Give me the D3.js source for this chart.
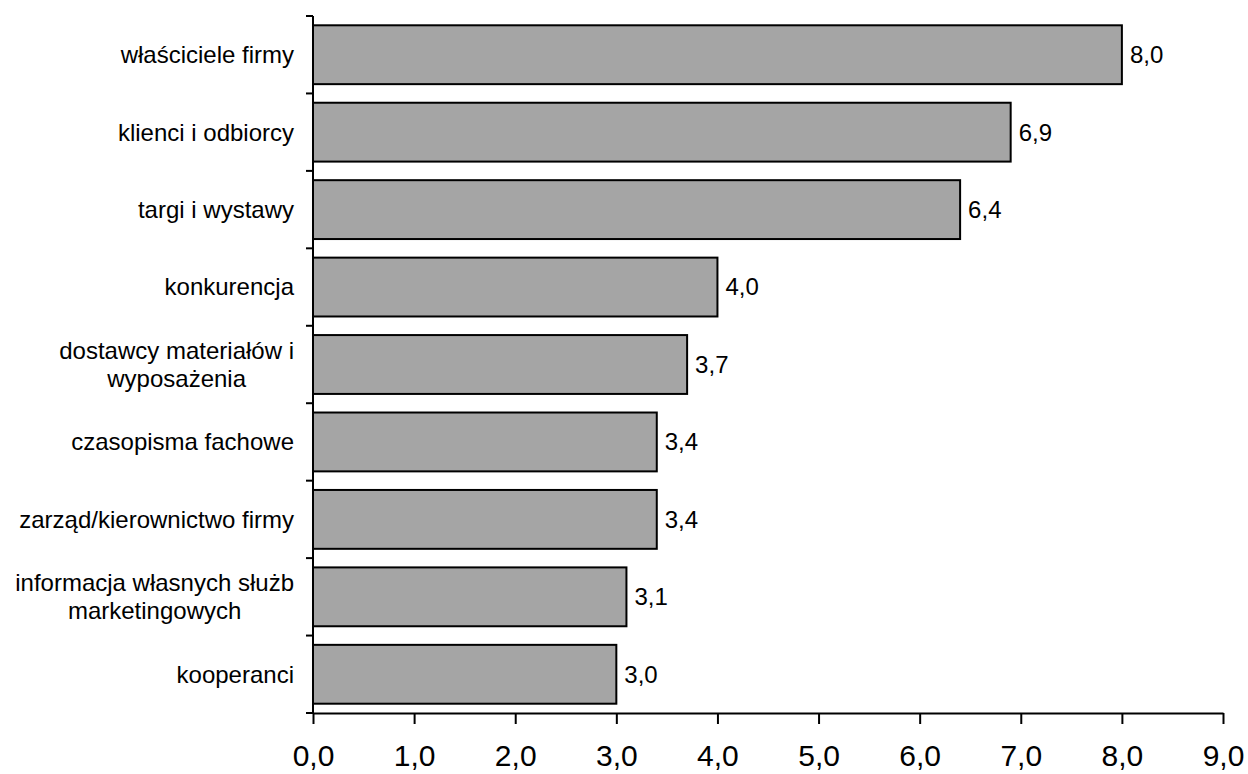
<!DOCTYPE html>
<html><head><meta charset="utf-8">
<script src="https://cdn.jsdelivr.net/npm/d3@7"></script>
<style>body{margin:0;background:#fff;} svg{display:block;font-family:"Liberation Sans",Arial,sans-serif;}</style>
</head><body>
<svg id="chart" width="1248" height="774"></svg>
<script>
const categories = [
  ["właściciele firmy"],
  ["klienci i odbiorcy"],
  ["targi i wystawy"],
  ["konkurencja"],
  ["dostawcy materiałów i", "wyposażenia"],
  ["czasopisma fachowe"],
  ["zarząd/kierownictwo firmy"],
  ["informacja własnych służb", "marketingowych"],
  ["kooperanci"]
];
const values = [8.0, 6.9, 6.4, 4.0, 3.7, 3.4, 3.4, 3.1, 3.0];
const xTicks = [0,1,2,3,4,5,6,7,8,9];

(function(){
const svg = d3.select("#chart");
const mLeft = 313, mRight = 1223, mTop = 16, mBottom = 713;
const fmt = v => v.toFixed(1).replace(".", ",");

const x = d3.scaleLinear().domain([0, 9]).range([mLeft, mRight]);
const y = d3.scaleBand().domain(d3.range(categories.length)).range([mTop, mBottom])
  .paddingInner(0.24).paddingOuter(0.12);
const step = y.step();

// bars
svg.append("g").selectAll("rect").data(values).join("rect")
  .attr("x", x(0)).attr("y", (d,i) => y(i))
  .attr("width", d => x(d) - x(0)).attr("height", y.bandwidth())
  .attr("fill", "#a5a5a5").attr("stroke", "#000").attr("stroke-width", 2);

// value labels
svg.append("g").selectAll("text").data(values).join("text")
  .attr("x", d => x(d) + 8).attr("y", (d,i) => y(i) + y.bandwidth()/2)
  .attr("dy", "0.35em").attr("font-size", 24).attr("fill", "#000")
  .text(d => fmt(d));

// x axis
const xAxis = d3.axisBottom(x).tickValues(xTicks).tickSize(11).tickPadding(21).tickFormat(fmt).tickSizeOuter(0);
const gx = svg.append("g").attr("transform", `translate(0,${mBottom})`).call(xAxis);
gx.select(".domain").attr("stroke", "#000").attr("stroke-width", 2);
gx.selectAll(".tick line").attr("stroke", "#000").attr("stroke-width", 2);
gx.selectAll(".tick text").attr("font-size", 30).attr("fill", "#000").attr("font-family", "Liberation Sans, Arial, sans-serif");

// y axis line and ticks at band boundaries
svg.append("line").attr("x1", mLeft).attr("x2", mLeft).attr("y1", mTop).attr("y2", mBottom)
  .attr("stroke", "#000").attr("stroke-width", 2);
svg.append("g").selectAll("line").data(d3.range(categories.length + 1)).join("line")
  .attr("x1", mLeft - 7).attr("x2", mLeft)
  .attr("y1", i => mTop + i * step).attr("y2", i => mTop + i * step)
  .attr("stroke", "#000").attr("stroke-width", 2);

// category labels
const labelRight = 294;
const lineH = 28;
const gl = svg.append("g").attr("font-size", 24).attr("fill", "#000");
categories.forEach((lines, i) => {
  const cy = y(i) + y.bandwidth()/2;
  if (lines.length === 1) {
    gl.append("text").attr("x", labelRight).attr("y", cy).attr("dy", "0.35em")
      .attr("text-anchor", "end").text(lines[0]);
  } else {
    const widths = lines.map(l => {
      const m = gl.append("text").text(l);
      const w = m.node().getComputedTextLength(); m.remove(); return w;
    });
    const maxW = d3.max(widths);
    const cx = labelRight - maxW / 2;
    const t = gl.append("text").attr("text-anchor", "middle");
    lines.forEach((l, k) => {
      t.append("tspan").attr("x", cx)
        .attr("y", cy + (k - (lines.length - 1) / 2) * lineH).attr("dy", "0.35em").text(l);
    });
  }
});
})();
</script>
</body></html>
